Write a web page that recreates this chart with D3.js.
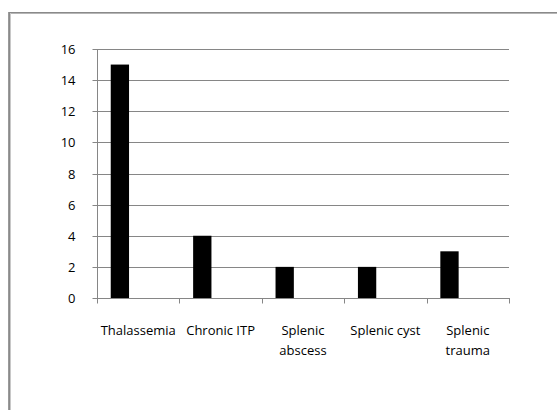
<!DOCTYPE html>
<html>
<head>
<meta charset="utf-8">
<script src="https://cdn.jsdelivr.net/npm/d3@7"></script>
<style>
  html, body { margin: 0; padding: 0; background: #fff; }
  svg { display: block; }
  text { font-family: "Open Sans", sans-serif; font-size: 13px; fill: #000; }
</style>
</head>
<body>
<svg id="chart" width="557" height="410"></svg>
<script>
// Splenectomy indications: number of cases per diagnosis
const categories = ["Thalassemia", "Chronic ITP", "Splenic abscess", "Splenic cyst", "Splenic trauma"];
const categoryLines = [["Thalassemia"], ["Chronic ITP"], ["Splenic", "abscess"], ["Splenic cyst"], ["Splenic", "trauma"]];
const cases = [15, 4, 2, 2, 3];
const yTicks = [0, 2, 4, 6, 8, 10, 12, 14, 16];
// cluster slots per category (the bar occupies the first slot)
const slots = ["a", "b", "c"];

const svg = d3.select("#chart");
const W = 557, H = 410;
const plot = { left: 97, right: 509, top: 49, bottom: 298 };

// outer frame (top and left edges)
svg.append("line").attr("x1", 8).attr("x2", W).attr("y1", 12.5).attr("y2", 12.5)
  .attr("stroke", "#8a8a8a").attr("stroke-width", 1);
svg.append("line").attr("x1", 8).attr("x2", W).attr("y1", 13.5).attr("y2", 13.5)
  .attr("stroke", "#b5b5b5").attr("stroke-width", 1);
svg.append("line").attr("x1", 8.5).attr("x2", 8.5).attr("y1", 12).attr("y2", H)
  .attr("stroke", "#9a9a9a").attr("stroke-width", 1);
svg.append("line").attr("x1", 9.5).attr("x2", 9.5).attr("y1", 12).attr("y2", H)
  .attr("stroke", "#8a8a8a").attr("stroke-width", 1);
svg.append("line").attr("x1", 10.5).attr("x2", 10.5).attr("y1", 13).attr("y2", H)
  .attr("stroke", "#c8c8c8").attr("stroke-width", 1);

const x = d3.scaleBand().domain(categories).range([plot.left, plot.right]).paddingInner(0).paddingOuter(0);
const xSlot = d3.scaleBand().domain(slots).range([0, x.bandwidth()]).paddingInner(0).paddingOuter(0.75);
const y = d3.scaleLinear().domain([0, 16]).range([plot.bottom, plot.top]);

const crisp = v => Math.round(v) + 0.5;
const gridColor = "#868686";

// horizontal gridlines
svg.append("g").selectAll("line").data(yTicks.filter(t => t > 0)).join("line")
  .attr("x1", plot.left).attr("x2", plot.right)
  .attr("y1", d => crisp(y(d))).attr("y2", d => crisp(y(d)))
  .attr("stroke", gridColor).attr("stroke-width", 1);

// bars
svg.append("g").selectAll("rect").data(categories).join("rect")
  .attr("x", d => x(d) + xSlot("a"))
  .attr("width", xSlot.bandwidth())
  .attr("y", (d, i) => y(cases[i]))
  .attr("height", (d, i) => y(0) - y(cases[i]))
  .attr("fill", "#000");

// y axis
const yAxis = d3.axisLeft(y).tickValues(yTicks).tickSize(5).tickPadding(17).tickFormat(d3.format("d"));
const gy = svg.append("g").attr("transform", `translate(${crisp(plot.left)},0)`).call(yAxis);
gy.select(".domain").attr("stroke", gridColor).attr("d", `M0,${crisp(y(16))}V${crisp(y(0))}`);
gy.selectAll(".tick").attr("transform", d => `translate(0,${crisp(y(d))})`);
gy.selectAll(".tick line").attr("stroke", gridColor);
gy.selectAll(".tick text").style("font-family", '"Open Sans", sans-serif').style("font-size", "13px").attr("fill", "#000");
gy.attr("font-family", null).attr("font-size", null);

// x axis: tick marks at category boundaries
const boundaries = categories.map(c => x(c)).concat([plot.right]);
const gx = svg.append("g");
gx.append("line").attr("x1", plot.left).attr("x2", plot.right + 1)
  .attr("y1", crisp(y(0))).attr("y2", crisp(y(0))).attr("stroke", gridColor);
gx.selectAll("line.tk").data(boundaries).join("line").attr("class", "tk")
  .attr("x1", d => crisp(d)).attr("x2", d => crisp(d))
  .attr("y1", crisp(y(0))).attr("y2", crisp(y(0)) + 5)
  .attr("stroke", gridColor);

// category labels
const labels = svg.append("g").selectAll("text").data(categories).join("text")
  .attr("text-anchor", "middle")
  .attr("x", d => x(d) + x.bandwidth() / 2)
  .attr("y", 335);
labels.each(function(d, i) {
  d3.select(this).selectAll("tspan").data(categoryLines[i]).join("tspan")
    .attr("x", x(d) + x.bandwidth() / 2)
    .attr("dy", (t, j) => j === 0 ? 0 : 20)
    .text(t => t);
});
</script>
</body>
</html>
